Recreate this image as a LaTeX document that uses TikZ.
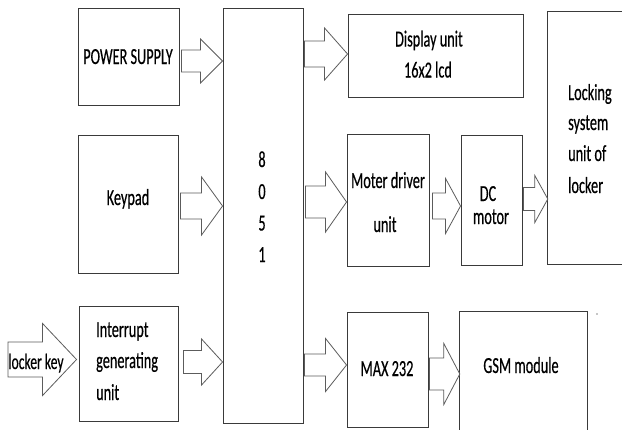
\documentclass[tikz,border=0pt]{standalone}
\usepackage{fontspec}
\setmainfont{Carlito}[FakeStretch=0.62, FakeBold=0.4]
\usetikzlibrary{calc}
\definecolor{boxline}{HTML}{3A3A3A}
\definecolor{arrowline}{HTML}{5C5C5C}
\tikzset{
  box/.style={draw=boxline, line width=0.9pt, inner sep=0pt},
  openbox/.style={inner sep=0pt},
  edge/.style={draw=boxline, line width=0.9pt},
  lbl/.style={inner sep=0pt, anchor=base, font=\fontsize{23}{28}\selectfont, text=black},
  lblL/.style={lbl, anchor=base west},
  barrow/.style={draw=arrowline, line width=0.8pt, line join=miter, fill=white},
}
% block arrow: tail coordinate, tip coordinate, shaft half height, head half height, head length
\newcommand\blockarrow[5]{%
  \draw[barrow] ($(#1)+(0,-#3)$) -- ($(#2)+(-#5,-#3)$) -- ($(#2)+(-#5,-#4)$) -- (#2)
    -- ($(#2)+(-#5,#4)$) -- ($(#2)+(-#5,#3)$) -- ($(#1)+(0,#3)$) -- cycle;}
\begin{document}
\begin{tikzpicture}[x=1pt, y=-1pt]
\useasboundingbox[fill=white] (0,0) rectangle (622,429);

% blocks
\node[box, minimum width=101pt, minimum height=97pt]  (ps)   at (128.5,56.5) {};
\node[box, minimum width=100pt, minimum height=138pt] (kp)   at (128,204) {};
\node[box, minimum width=99pt,  minimum height=115pt] (ig)   at (128.5,363.5) {};
\node[box, minimum width=80pt,  minimum height=415pt] (mcu)  at (263,215.5) {};
\node[box, minimum width=175pt, minimum height=83pt]  (disp) at (435.5,55.5) {};
\node[box, minimum width=82pt,  minimum height=132pt] (md)   at (388,200) {};
\node[box, minimum width=61pt,  minimum height=130pt] (dc)   at (491.5,200) {};
\node[box, minimum width=81pt,  minimum height=115pt] (max)  at (387.5,369.5) {};
\node[openbox, minimum width=74pt,  minimum height=252pt] (lock) at (585,138) {};
\node[openbox, minimum width=127pt, minimum height=120pt] (gsm)  at (523.5,372) {};
\draw[edge] (lock.north east) -- (lock.north west) -- (lock.south west) -- (lock.south east);
\draw[edge] (gsm.south west) -- (gsm.north west) -- (gsm.north east) -- (gsm.south east);

% texts
\node[lbl] (psL) at (128,64) {POWER SUPPLY};
\node[lbl] (kpL) at (128,205) {Keypad};
\node[lblL] (ig1) at (96,337) {Interrupt};
\node[lblL] (ig2) at (96,368) {generating};
\node[lblL] (ig3) at (96,400) {unit};
\node[lbl] (m1) at (262,167) {8};
\node[lbl] (m2) at (262,199) {0};
\node[lbl] (m3) at (262,230.5) {5};
\node[lbl] (m4) at (262,262) {1};
\node[lbl] (d1) at (429,46.5) {Display unit};
\node[lbl] (d2) at (428,77.5) {16x2 lcd};
\node[lblL] (l1) at (568,100) {Locking};
\node[lblL] (l2) at (568,130) {system};
\node[lblL] (l3) at (568,161) {unit of};
\node[lblL] (l4) at (568,193) {locker};
\node[lbl] (md1) at (388,188) {Moter driver};
\node[lbl] (md2) at (385,232) {unit};
\node[lbl] (dc1) at (488,201) {DC};
\node[lbl] (dc2) at (491,224) {motor};
\node[lbl] (maxL) at (387,376) {MAX 232};
\node[lbl] (gsmL) at (521,373) {GSM module};

% arrow end points
\coordinate (t1) at ($(ps.east |- 0,61)+(2,0)$);   \coordinate (h1) at (mcu.west |- 0,61);
\coordinate (t2) at ($(kp.east |- 0,206)+(2,0)$);  \coordinate (h2) at (mcu.west |- 0,206);
\coordinate (t3) at ($(ig.east |- 0,362)+(5,0)$);  \coordinate (h3) at (mcu.west |- 0,362);
\coordinate (t4) at (8,359.5);                     \coordinate (h4) at ($(ig.west |- 0,359.5)+(-2,0)$);
\coordinate (t5) at ($(mcu.east |- 0,54)+(1,0)$);  \coordinate (h5) at (disp.west |- 0,54);
\coordinate (t6) at ($(mcu.east |- 0,202)+(2,0)$); \coordinate (h6) at (md.west |- 0,202);
\coordinate (t7) at ($(md.east |- 0,206)+(3,0)$);  \coordinate (h7) at (dc.west |- 0,206);
\coordinate (t8) at ($(dc.east |- 0,199)+(1,0)$);  \coordinate (h8) at (lock.west |- 0,199);
\coordinate (t9) at ($(mcu.east |- 0,365)+(1,0)$); \coordinate (h9) at (max.west |- 0,365);
\coordinate (t10) at ($(max.east |- 0,374)+(1,0)$); \coordinate (h10) at (gsm.west |- 0,374);

% block arrows
\blockarrow{t1}{h1}{11}{22}{22}
\blockarrow{t2}{h2}{13}{29}{21}
\blockarrow{t3}{h3}{11.5}{23}{21}
\blockarrow{t4}{h4}{17.5}{36}{34}
\blockarrow{t5}{h5}{13}{26}{23}
\blockarrow{t6}{h6}{16}{30}{21}
\blockarrow{t7}{h7}{13}{27.5}{15}
\blockarrow{t8}{h8}{11.5}{23.5}{13}
\blockarrow{t9}{h9}{11}{26.5}{21}
\blockarrow{t10}{h10}{16}{30.5}{16}

\node[lbl, font=\fontsize{22}{26}\selectfont] (lkL) at (36,369) {locker key};

% stray marks
\fill[black!45] (597,314) circle (0.8);
\fill[black!35] (536,220) circle (0.6);
\end{tikzpicture}
\end{document}
